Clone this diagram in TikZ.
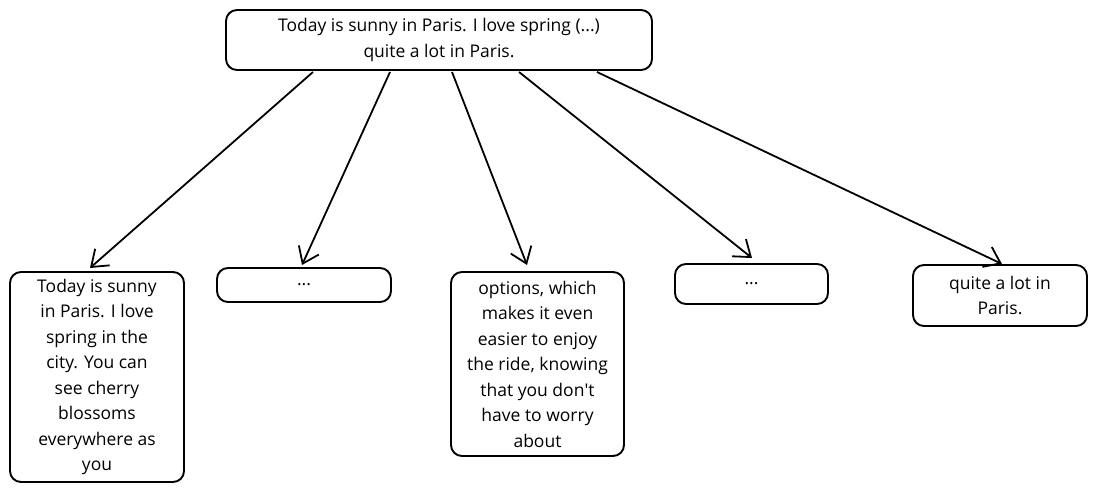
\documentclass[tikz,border=0pt]{standalone}
\usepackage{fontspec}
\setmainfont{Open Sans}
\usetikzlibrary{arrows.meta}
\tikzset{
  box/.style={draw=black, line width=1.9pt, rounded corners=11pt, inner sep=0pt, align=center,
    font=\fontsize{17.5}{25.5}\selectfont},
  conn/.style={draw=black, line width=1.8pt, -{Straight Barb[length=15pt, width=22pt, line width=1.8pt]}}
}
\begin{document}
\begin{tikzpicture}[x=1pt, y=-1pt]
\useasboundingbox (0,0) rectangle (1097,492);
\node[box, minimum width=426pt, minimum height=60pt] (top) at (439,40) {Today is sunny in Paris. I love spring (...)\\quite a lot in Paris.};
\node[box, minimum width=174pt, minimum height=210pt] (b1) at (97,377) {Today is sunny\\in Paris. I love\\spring in the\\city. You can\\see cherry\\blossoms\\everywhere as\\you};
\node[box, minimum width=174pt, minimum height=34pt] (b2) at (304,285) {...};
\node[box, minimum width=173pt, minimum height=184pt] (b3) at (537.5,364) {options, which\\makes it even\\easier to enjoy\\the ride, knowing\\that you don\textquotesingle t\\have to worry\\about};
\node[box, minimum width=153pt, minimum height=40pt] (b4) at (751.5,284) {...};
\node[box, minimum width=174pt, minimum height=61pt] (b5) at (1000,295.5) {quite a lot in\\Paris.};
\coordinate (s1) at (313,72);
\coordinate (s2) at (390,72);
\coordinate (s3) at (452,72);
\coordinate (s4) at (519,72);
\coordinate (s5) at (597,72);
\coordinate (e1) at (90,268);
\coordinate (e2) at (302,265);
\coordinate (e3) at (527,265);
\coordinate (e4) at (752,258);
\coordinate (e5) at (1002,264);
\draw[conn] (s1) -- (e1);
\draw[conn] (s2) -- (e2);
\draw[conn] (s3) -- (e3);
\draw[conn] (s4) -- (e4);
\draw[conn] (s5) -- (e5);
\end{tikzpicture}
\end{document}
